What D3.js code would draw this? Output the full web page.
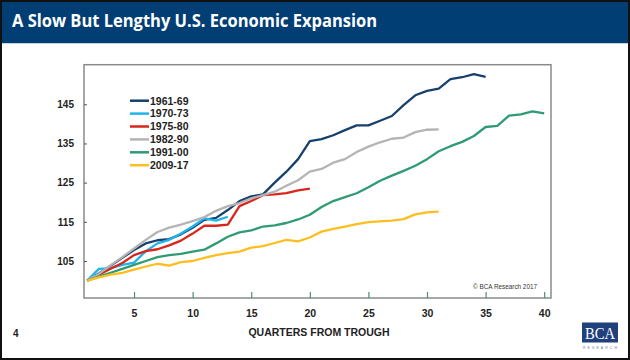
<!DOCTYPE html>
<html><head><meta charset="utf-8">
<script src="https://cdn.jsdelivr.net/npm/d3@7"></script>
<style>body{margin:0;background:#fff}svg{display:block}</style>
</head><body>
<svg id="c" width="630" height="360"></svg>
<script>
const title = "A Slow But Lengthy U.S. Economic Expansion";
const xTitle = "QUARTERS FROM TROUGH";
const credit = "© BCA Research 2017";
const pageNum = "4";
const seriesNames = ["1961-69","1970-73","1975-80","1982-90","1991-00","2009-17"];
const seriesColors = ["#17406f","#1fb4ea","#d9261c","#b4b4b4","#2f9b72","#fdbf1f"];
const s1961 = [100,101.8,103.8,105.8,107.8,109.5,110.3,110.6,111.8,113.5,115.5,116,118,120.3,121.5,122,125,127.8,131,135.6,136.1,137.1,138.4,139.6,139.6,140.8,142,144.8,147.3,148.4,149,151.4,151.9,152.7,152];
const s1970 = [100,103,103.2,104,104.6,107.5,109.5,110.4,112,113.8,115.9,115.3,116.3];
const s1975 = [100,101.5,103,104.5,106.5,107.5,108,109,110.2,112,114,114,114.3,119,120.3,121.8,122,122.3,123,123.5];
const s1982 = [100,101.7,103.9,106,108.2,110.4,112.4,113.5,114.3,115.2,116.2,117.8,119,119.8,121,121.8,122.7,124.2,125.6,127.8,128.5,130.1,131,132.8,134.2,135.3,136.2,136.5,137.9,138.5,138.6];
const s1991 = [100,101,102,103,104,105,106,106.5,106.8,107.4,107.9,109.5,111.2,112.3,112.8,113.8,114.1,114.7,115.6,116.8,118.8,120.3,121.3,122.3,123.8,125.5,126.8,128,129.3,131,133,134.3,135.4,136.9,139.2,139.5,142.1,142.4,143.2,142.7];
const s2009 = [100,100.8,101.5,102,102.8,103.6,104.3,103.8,104.7,105,105.8,106.5,107,107.4,108.4,108.8,109.6,110.4,110,111,112.5,113.2,113.8,114.4,114.9,115.1,115.3,115.7,116.9,117.4,117.6];
const seriesValues = [s1961,s1970,s1975,s1982,s1991,s2009];
const xTicks = [5,10,15,20,25,30,35,40];
const yTicks = [105,115,125,135,145];

const svg = d3.select("#c");
const W = 630, H = 360;
const plot = {l:84, r:551, t:64.7, b:298};

svg.append("rect").attr("x",0).attr("y",0).attr("width",W).attr("height",H).attr("fill","#fff");
// title bar
svg.append("rect").attr("x",0).attr("y",0).attr("width",W).attr("height",43).attr("fill","#003e74");
svg.append("line").attr("x1",0).attr("x2",W).attr("y1",43.5).attr("y2",43.5).attr("stroke","#c9d3dd").attr("stroke-width",1);
svg.append("text").attr("x",12).attr("y",27).attr("fill","#fff")
  .attr("font-family","'Open Sans', 'DejaVu Sans', sans-serif").attr("font-weight",700).attr("font-size",17.5)
  .attr("textLength",365).attr("lengthAdjust","spacingAndGlyphs").text(title);

const x = d3.scaleLinear().domain([0.73,40.58]).range([plot.l, plot.r]);
const y = d3.scaleLinear().domain([95.56,155.1]).range([plot.b, plot.t]);

// frame
svg.append("rect").attr("x",plot.l).attr("y",plot.t).attr("width",plot.r-plot.l).attr("height",plot.b-plot.t)
  .attr("fill","none").attr("stroke","#8a8a8a").attr("stroke-width",1.5);

// y axis
const yAxis = d3.axisLeft(y).tickValues(yTicks).tickSize(-3).tickPadding(10).tickFormat(d3.format("d"));
const gy = svg.append("g").attr("transform",`translate(${plot.l},0)`).call(yAxis);
gy.select(".domain").remove();
gy.selectAll(".tick line").attr("stroke","#555").attr("stroke-width",1);
gy.selectAll(".tick text").attr("font-family","'Liberation Sans', Arial, sans-serif").attr("font-weight",700)
  .attr("font-size",10).attr("fill","#222");

// x axis
const xAxis = d3.axisBottom(x).tickValues(xTicks).tickSize(-6).tickPadding(12);
const gx = svg.append("g").attr("transform",`translate(0,${plot.b})`).call(xAxis);
gx.select(".domain").remove();
gx.selectAll(".tick line").attr("stroke","#4f8f6a").attr("stroke-width",1.2);
gx.selectAll(".tick text").attr("font-family","'Liberation Sans', Arial, sans-serif").attr("font-weight",700)
  .attr("font-size",10.5).attr("fill","#222");

svg.append("text").attr("x",319).attr("y",335.5).attr("text-anchor","middle")
  .attr("font-family","'Liberation Sans', Arial, sans-serif").attr("font-weight",700).attr("font-size",10.5)
  .attr("fill","#222").text(xTitle);

// lines
const line = d3.line().x((d,i)=>x(i+1)).y(d=>y(d));
seriesValues.forEach((vals,k)=>{
  svg.append("path").datum(vals).attr("d",line).attr("fill","none")
    .attr("stroke",seriesColors[k]).attr("stroke-width",2.3).attr("stroke-linejoin","round");
});

// legend
const leg = svg.append("g");
seriesNames.forEach((n,k)=>{
  const yy = 100.7 + k*12.9;
  leg.append("line").attr("x1",130).attr("x2",149).attr("y1",yy).attr("y2",yy)
    .attr("stroke",seriesColors[k]).attr("stroke-width",2.5);
  leg.append("text").attr("x",150).attr("y",yy+3.8).attr("font-family","'Liberation Sans', Arial, sans-serif")
    .attr("font-weight",700).attr("font-size",10.5).attr("fill","#222").text(n);
});

// credit
svg.append("text").attr("x",473).attr("y",289).attr("font-family","'Liberation Sans', Arial, sans-serif")
  .attr("font-size",7).attr("fill","#333").attr("textLength",64).attr("lengthAdjust","spacingAndGlyphs").text(credit);

// page number
svg.append("text").attr("x",13).attr("y",337).attr("font-family","'Liberation Sans', Arial, sans-serif")
  .attr("font-weight",700).attr("font-size",10).attr("fill","#222").text(pageNum);

// logo
svg.append("rect").attr("x",582).attr("y",322.5).attr("width",36).attr("height",20).attr("fill","#1f3f7d");
svg.append("text").attr("x",600).attr("y",339).attr("text-anchor","middle").attr("fill","#fff")
  .attr("font-family","'Liberation Serif', 'DejaVu Serif', serif").attr("font-size",16)
  .attr("textLength",30).attr("lengthAdjust","spacingAndGlyphs").text("BCA");
svg.append("text").attr("x",600).attr("y",348.5).attr("text-anchor","middle").attr("fill","#6a7ea3")
  .attr("font-family","'Liberation Sans', Arial, sans-serif").attr("font-size",3.5)
  .attr("textLength",34).attr("lengthAdjust","spacing").text("RESEARCH");

// outer border
svg.append("rect").attr("x",1).attr("y",1).attr("width",W-2).attr("height",H-2)
  .attr("fill","none").attr("stroke","#111").attr("stroke-width",2);
</script>
</body></html>
